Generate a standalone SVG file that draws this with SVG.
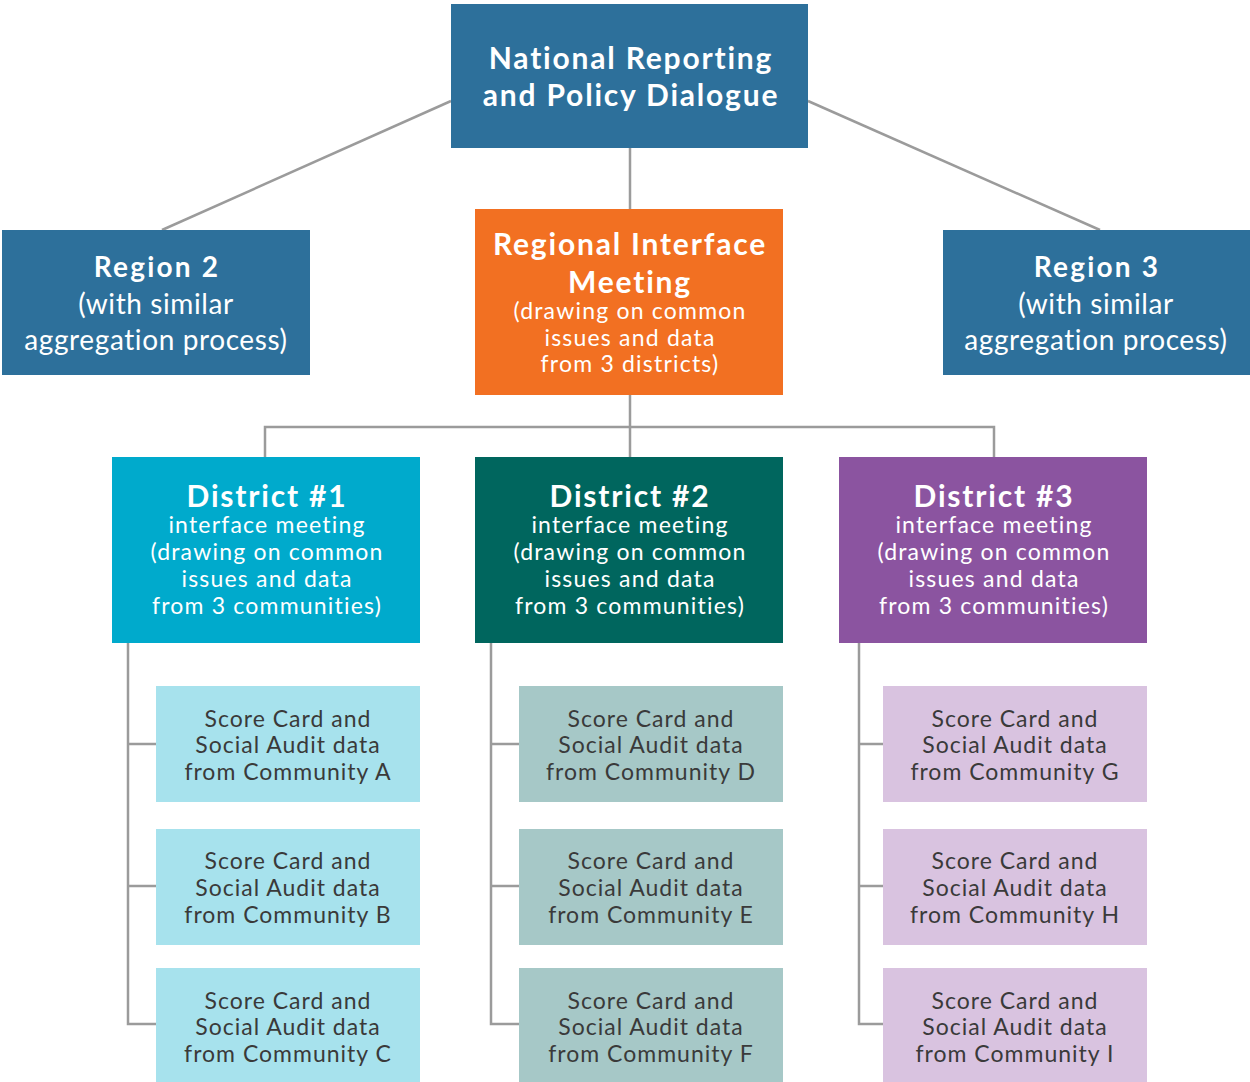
<svg xmlns="http://www.w3.org/2000/svg" width="1250" height="1082" viewBox="0 0 1250 1082">
<style>
text{font-family:Lato,"Open Sans","DejaVu Sans",sans-serif;text-anchor:middle}
.w{fill:#ffffff}
.t{font-weight:bold;font-size:30px;letter-spacing:1.8px}
.s{font-size:28px;letter-spacing:0.6px}
.sb{font-weight:bold;letter-spacing:2.2px}
.m{font-size:23px;letter-spacing:1.2px}
.c{fill:#3a3a3a;font-size:23px;letter-spacing:1px}
.ln{stroke:#9b9b9b;stroke-width:2.5;fill:none}
.blue{fill:#2d709b}
.orange{fill:#f27022}
.d1{fill:#00aacc}
.d2{fill:#00665e}
.d3{fill:#8b54a0}
.c1{fill:#a7e2ed}
.c2{fill:#a6c8c7}
.c3{fill:#d9c3e0}
</style>
<g id="connectors">
<path class="ln" d="M451,101 L162,230"/>
<path class="ln" d="M808,101 L1100,230"/>
<path class="ln" d="M630,148 L630,209"/>
<path class="ln" d="M630,395 L630,457"/>
<path class="ln" d="M265,457 L265,427 L994,427 L994,457"/>
<path class="ln" d="M128,643 L128,1024 L156,1024 M128,744 L156,744 M128,886 L156,886"/>
<path class="ln" d="M491,643 L491,1024 L519,1024 M491,744 L519,744 M491,886 L519,886"/>
<path class="ln" d="M859,643 L859,1024 L883,1024 M859,744 L883,744 M859,886 L883,886"/>
</g>
<g id="national">
<rect class="blue" x="451" y="4" width="357" height="144"/>
<text class="w t" x="631" y="69">National Reporting</text>
<text class="w t" x="631" y="106">and Policy Dialogue</text>
</g>
<g id="region2">
<rect class="blue" x="2" y="230" width="308" height="145"/>
<text class="w s sb" x="157" y="277">Region 2</text>
<text class="w s" x="156" y="314">(with similar</text>
<text class="w s" x="156" y="350">aggregation process)</text>
</g>
<g id="region3">
<rect class="blue" x="943" y="230" width="307" height="145"/>
<text class="w s sb" x="1097" y="277">Region 3</text>
<text class="w s" x="1096" y="314">(with similar</text>
<text class="w s" x="1096" y="350">aggregation process)</text>
</g>
<g id="regional">
<rect class="orange" x="475" y="209" width="308" height="186"/>
<text class="w t" x="630" y="255">Regional Interface</text>
<text class="w t" x="630" y="293">Meeting</text>
<text class="w m" x="630" y="319">(drawing on common</text>
<text class="w m" x="630" y="346">issues and data</text>
<text class="w m" x="630" y="372">from 3 districts)</text>
</g>
<g id="district1">
<rect class="d1" x="112" y="457" width="308" height="186"/>
<text class="w t" x="267" y="507">District #1</text>
<text class="w m" x="267" y="533">interface meeting</text>
<text class="w m" x="267" y="560">(drawing on common</text>
<text class="w m" x="267" y="587">issues and data</text>
<text class="w m" x="267" y="614">from 3 communities)</text>
</g>
<g id="district2">
<rect class="d2" x="475" y="457" width="308" height="186"/>
<text class="w t" x="630" y="507">District #2</text>
<text class="w m" x="630" y="533">interface meeting</text>
<text class="w m" x="630" y="560">(drawing on common</text>
<text class="w m" x="630" y="587">issues and data</text>
<text class="w m" x="630" y="614">from 3 communities)</text>
</g>
<g id="district3">
<rect class="d3" x="839" y="457" width="308" height="186"/>
<text class="w t" x="994" y="507">District #3</text>
<text class="w m" x="994" y="533">interface meeting</text>
<text class="w m" x="994" y="560">(drawing on common</text>
<text class="w m" x="994" y="587">issues and data</text>
<text class="w m" x="994" y="614">from 3 communities)</text>
</g>
<g id="communityA"><rect class="c1" x="156" y="686" width="264" height="116"/>
<text class="c" x="288" y="727">Score Card and</text><text class="c" x="288" y="753">Social Audit data</text><text class="c" x="288" y="780">from Community A</text></g>
<g id="communityB"><rect class="c1" x="156" y="829" width="264" height="116"/>
<text class="c" x="288" y="869">Score Card and</text><text class="c" x="288" y="896">Social Audit data</text><text class="c" x="288" y="923">from Community B</text></g>
<g id="communityC"><rect class="c1" x="156" y="968" width="264" height="114"/>
<text class="c" x="288" y="1009">Score Card and</text><text class="c" x="288" y="1035">Social Audit data</text><text class="c" x="288" y="1062">from Community C</text></g>
<g id="communityD"><rect class="c2" x="519" y="686" width="264" height="116"/>
<text class="c" x="651" y="727">Score Card and</text><text class="c" x="651" y="753">Social Audit data</text><text class="c" x="651" y="780">from Community D</text></g>
<g id="communityE"><rect class="c2" x="519" y="829" width="264" height="116"/>
<text class="c" x="651" y="869">Score Card and</text><text class="c" x="651" y="896">Social Audit data</text><text class="c" x="651" y="923">from Community E</text></g>
<g id="communityF"><rect class="c2" x="519" y="968" width="264" height="114"/>
<text class="c" x="651" y="1009">Score Card and</text><text class="c" x="651" y="1035">Social Audit data</text><text class="c" x="651" y="1062">from Community F</text></g>
<g id="communityG"><rect class="c3" x="883" y="686" width="264" height="116"/>
<text class="c" x="1015" y="727">Score Card and</text><text class="c" x="1015" y="753">Social Audit data</text><text class="c" x="1015" y="780">from Community G</text></g>
<g id="communityH"><rect class="c3" x="883" y="829" width="264" height="116"/>
<text class="c" x="1015" y="869">Score Card and</text><text class="c" x="1015" y="896">Social Audit data</text><text class="c" x="1015" y="923">from Community H</text></g>
<g id="communityI"><rect class="c3" x="883" y="968" width="264" height="114"/>
<text class="c" x="1015" y="1009">Score Card and</text><text class="c" x="1015" y="1035">Social Audit data</text><text class="c" x="1015" y="1062">from Community I</text></g>
</svg>
